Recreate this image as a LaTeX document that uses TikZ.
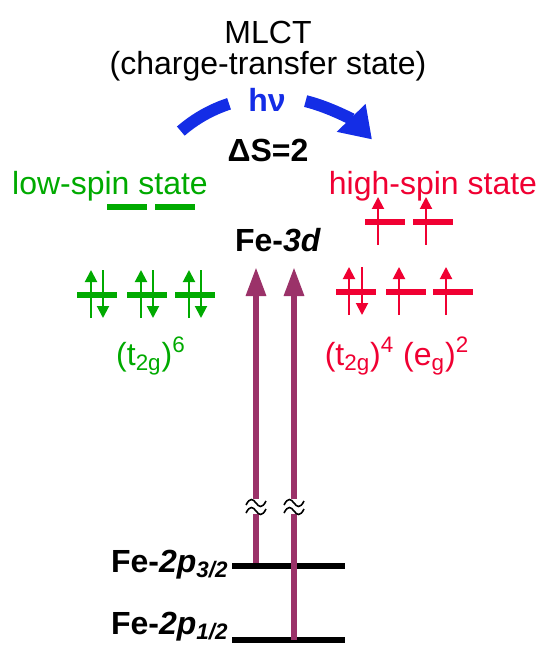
\documentclass[tikz,border=0pt]{standalone}
\usepackage{fontspec}
\setmainfont{Liberation Sans}
\usetikzlibrary{arrows.meta}
\definecolor{lowgreen}{RGB}{0,170,0}
\definecolor{highred}{RGB}{240,0,50}
\definecolor{probepurple}{RGB}{155,50,105}
\definecolor{pumpblue}{RGB}{20,45,230}

\begin{document}
\begin{tikzpicture}[x=0.5pt, y=-0.5pt,
    level/.style={line width=3pt},
    corelevel/.style={line width=3pt, black},
    spin/.style={line width=1pt, -{Triangle[length=6pt, width=6pt]}},
    probe/.style={line width=3pt, probepurple},
    pump/.style={line width=6pt, pumpblue},
    txt/.style={font=\fontsize{16}{19}\selectfont, inner sep=0pt},
    boldtxt/.style={font=\fontsize{16}{19}\selectfont\bfseries, inner sep=0pt},
    breakmark/.style={line width=0.8pt, black}]
  % An orbital bar: #1 = colour, #2 = x of its center, #3 = y.
  \newcommand{\orbital}[3]{%
    \draw[level, #1] (#2-20,#3) -- (#2+20,#3);}
  % Spin arrows through a bar: #1 = colour, #2 = x, #3 = y of the bar.
  \newcommand{\spinup}[3]{%
    \draw[spin, #1] (#2,#3+23) -- (#2,#3-25);}
  \newcommand{\spindown}[3]{%
    \draw[spin, #1] (#2,#3-25) -- (#2,#3+23);}
  % The break in an x-ray arrow: #1 = x, #2 = y of its center.
  \newcommand{\axisbreak}[2]{%
    \foreach \dy in {-4,4}
      \draw[breakmark] (#1-10,#2+\dy+2) .. controls (#1-6,#2+\dy-6) and (#1-3,#2+\dy-4) .. (#1,#2+\dy)
        .. controls (#1+3,#2+\dy+4) and (#1+6,#2+\dy+6) .. (#1+10,#2+\dy-2);}

  \useasboundingbox (0,0) rectangle (540,646);

  % titles
  \node[txt] (mlct) at (268,32) {MLCT};
  \node[txt] (ctstate) at (268,66) {(charge-transfer state)};
  \node[boldtxt, pumpblue] (hnu) at (267,100) {hν};
  \node[boldtxt] (dspin) at (268,150) {ΔS=2};

  % the pump arrow, broken round hnu
  \coordinate (pivot) at (272,236);
  \draw[pump] (pivot) ++(-131:139) arc[start angle=-131, end angle=-108, radius=139];
  \draw[pump, -{Triangle[length=15pt, width=19pt]}] (pivot) ++(-76:139)
    arc[start angle=-76, end angle=-44, radius=139];

  % low-spin side
  \node[txt, lowgreen] (lowspin) at (110,186) {low-spin state};
  \orbital{lowgreen}{127}{207}
  \orbital{lowgreen}{175}{207}
  \foreach \cx in {97,147,195} {
    \orbital{lowgreen}{\cx}{295}
    \spinup{lowgreen}{\cx-6}{295}
    \spindown{lowgreen}{\cx+6}{295}
  }
  \node[txt, lowgreen] (lowconf) at (151,356) {(t\textsubscript{2g})\textsuperscript{6}};

  % high-spin side
  \node[txt, highred] (highspin) at (433,186) {high-spin state};
  \foreach \cx in {385,433} {
    \orbital{highred}{\cx}{222}
    \spinup{highred}{\cx-7}{222}
  }
  \orbital{highred}{356}{292}
  \spinup{highred}{349}{292}
  \spindown{highred}{362}{292}
  \foreach \cx in {406,453} {
    \orbital{highred}{\cx}{292}
    \spinup{highred}{\cx-7}{292}
  }
  \node[txt, highred] (highconf) at (397,356)
    {(t\textsubscript{2g})\textsuperscript{4} (e\textsubscript{g})\textsuperscript{2}};

  % Fe levels
  \node[boldtxt] (fe3d) at (278,240) {Fe-\textit{3d}};
  \draw[corelevel] (232,566) -- (345,566);
  \draw[corelevel] (232,640) -- (345,640);
  \node[boldtxt, anchor=base east] (fe2p32) at (229,572) {Fe-\textit{2p\textsubscript{3/2}}};
  \node[boldtxt, anchor=base east] (fe2p12) at (229,634) {Fe-\textit{2p\textsubscript{1/2}}};

  % the x-ray transitions, with a break in each
  \coordinate (lowA) at (256,563);
  \coordinate (lowB) at (294,640);
  \coordinate (brkA) at (256,507);
  \coordinate (brkB) at (294,507);
  \coordinate (topA) at (256,267);
  \coordinate (topB) at (294,267);
  \foreach \b/\l/\t in {brkA/lowA/topA, brkB/lowB/topB} {
    \draw[probe] (\l) -- ([yshift=-3.5pt]\b);
    \draw[probe, -{Triangle[length=14.5pt, width=9.5pt]}] ([yshift=4pt]\b) -- (\t);
  }
  \axisbreak{256}{507}
  \axisbreak{294}{507}
\end{tikzpicture}
\end{document}
